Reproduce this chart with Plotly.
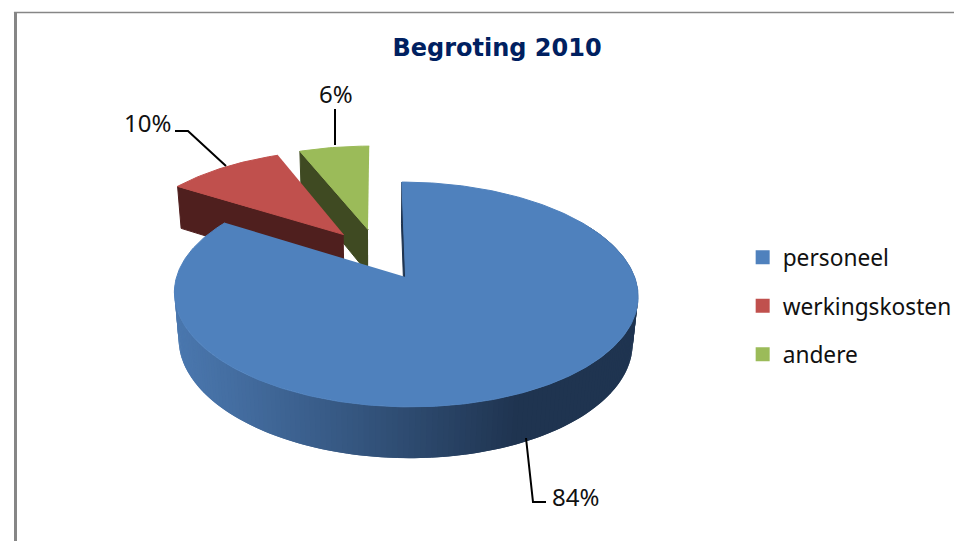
import numpy as np
import plotly.graph_objects as go

# data
title = "Begroting 2010"
categories = ["personeel", "werkingskosten", "andere"]
shares = [84, 10, 6]
top_colors = ["#4F81BD", "#C0504D", "#9BBB59"]
wall_colors = ["#1F3450", "#4F1F1E", "#3F4A22"]

# pie projection (screen pixels, perspective tilt)
X0, Y0, A, B, K, DEPTH, M, EXPLODE = 378.0, 253.8, 221.5, 102.6, 0.15, 46.0, 0.02, 0.25
W, H = 957, 541
PLOT_W = 954  # the legend takes a few pixels of margin on the right


def project(u, v, bottom=False):
    w = 1 + K * v + (M if bottom else 0)
    x = X0 + A * u / w
    y = Y0 - B * v / w + (DEPTH / w if bottom else 0)
    return x, y


def slice_geom(start, end):
    mid = (start + end) / 2
    cu, cv = EXPLODE * np.sin(mid), EXPLODE * np.cos(mid)
    t = np.linspace(start, end, max(int((end - start) * 60), 8))
    return cu, cv, t, cu + np.sin(t), cv + np.cos(t)


def poly(xs, ys, color, width=1):
    return go.Scatter(x=list(xs), y=list(ys), mode="lines", fill="toself", fillcolor=color,
                      line=dict(color=color, width=width), showlegend=False, hoverinfo="skip")


def mix(c1, c2, f):
    a = [int(c1[i:i + 2], 16) for i in (1, 3, 5)]
    b = [int(c2[i:i + 2], 16) for i in (1, 3, 5)]
    return "#%02x%02x%02x" % tuple(round(p + (q - p) * f) for p, q in zip(a, b))


total = sum(shares)
edges = np.concatenate([[0], np.cumsum(shares)]) / total * 2 * np.pi
geoms = [slice_geom(edges[i], edges[i + 1]) for i in range(3)]
fig = go.Figure()

# back slices: green then red, each with its front-facing cut wall
for i in (2, 1):
    cu, cv, t, us, vs = geoms[i]
    ax, ay = project(cu, cv)
    bx, by = project(cu, cv, True)
    rx, ry = project(us[0], vs[0])
    qx, qy = project(us[0], vs[0], True)
    fig.add_trace(poly([ax, rx, qx, bx], [ay, ry, qy, by], wall_colors[i]))
    tx, ty = project(us, vs)
    fig.add_trace(poly([ax, *tx], [ay, *ty], top_colors[i]))

# blue slice: shaded rim, cut wall and top
cu, cv, t, us, vs = geoms[0]
ax, ay = project(cu, cv)
bx, by = project(cu, cv, True)
rx, ry = project(us[0], vs[0])
qx, qy = project(us[0], vs[0], True)
fig.add_trace(poly([ax, rx, qx, bx], [ay, ry, qy, by], wall_colors[0]))
n_seg = 170
ang = np.linspace(np.pi * 0.33, edges[1] - 0.62, n_seg + 1)
for k in range(n_seg):
    a = np.linspace(ang[k], ang[min(k + 2, n_seg)], 4)
    u2, v2 = cu + np.sin(a), cv + np.cos(a)
    x1, y1 = project(u2, v2)
    x2, y2 = project(u2, v2, True)
    f = np.clip((x1[0] - 175) / (520 - 175), 0, 1)
    color = mix("#4A77AE", "#1F3450", f ** 1.1)
    fig.add_trace(poly([*x1, *x2[::-1]], [*y1, *y2[::-1]], color, 0))
tx, ty = project(us, vs)
fig.add_trace(poly([ax, *tx], [ay, *ty], top_colors[0]))

# legend entries
for name, color in zip(categories, top_colors):
    fig.add_trace(go.Scatter(x=[None], y=[None], mode="markers", name=name, legendgroup=name,
                             marker=dict(symbol="square", size=14, color=color)))

# labels
label_pos = [(575, 496), (147, 122), (336, 93)]
annotations = [dict(x=p[0], y=p[1], xref="x", yref="y", text=f"{v}%", showarrow=False,
                    font=dict(family="Noto Sans", size=24, color="#111111"))
               for v, p in zip(shares, label_pos)]

leaders = [[(526, 438), (533, 502), (546, 502)],
           [(175, 131), (188, 131), (226, 166)],
           [(335, 109), (335, 145)]]
shapes = [dict(type="path", xref="x", yref="y",
               path="M" + " L".join(f"{x},{y}" for x, y in pts),
               line=dict(color="black", width=2)) for pts in leaders]
# chart frame: top and left edges
shapes += [dict(type="line", xref="paper", yref="y", x0=0.0146, x1=1, y0=12.5, y1=12.5,
                line=dict(color="#868686", width=1.5)),
           dict(type="line", xref="x", yref="y", x0=15.5, x1=15.5, y0=12, y1=541,
                line=dict(color="#868686", width=3))]

fig.update_layout(
    width=W, height=H, autosize=False, margin=dict(l=0, r=0, t=0, b=0),
    paper_bgcolor="white", plot_bgcolor="white",
    xaxis=dict(range=[0, PLOT_W], visible=False, fixedrange=True),
    yaxis=dict(range=[H, 0], visible=False, fixedrange=True),
    title=dict(text=f"<b>{title}</b>", x=497 / W, y=1 - 48 / H, xanchor="center", yanchor="middle",
               font=dict(family="DejaVu Sans", size=24, color="#002060")),
    legend=dict(x=745 / W, y=1 - 236 / H, xanchor="left", yanchor="top", traceorder="grouped",
                tracegroupgap=16, itemsizing="trace", itemwidth=30, bgcolor="rgba(0,0,0,0)",
                font=dict(family="Noto Sans", size=22.7, color="#111111")),
    annotations=annotations, shapes=shapes,
)
fig.write_html("out.html", post_script="document.body.style.margin='0';",
               config={"displayModeBar": False})
